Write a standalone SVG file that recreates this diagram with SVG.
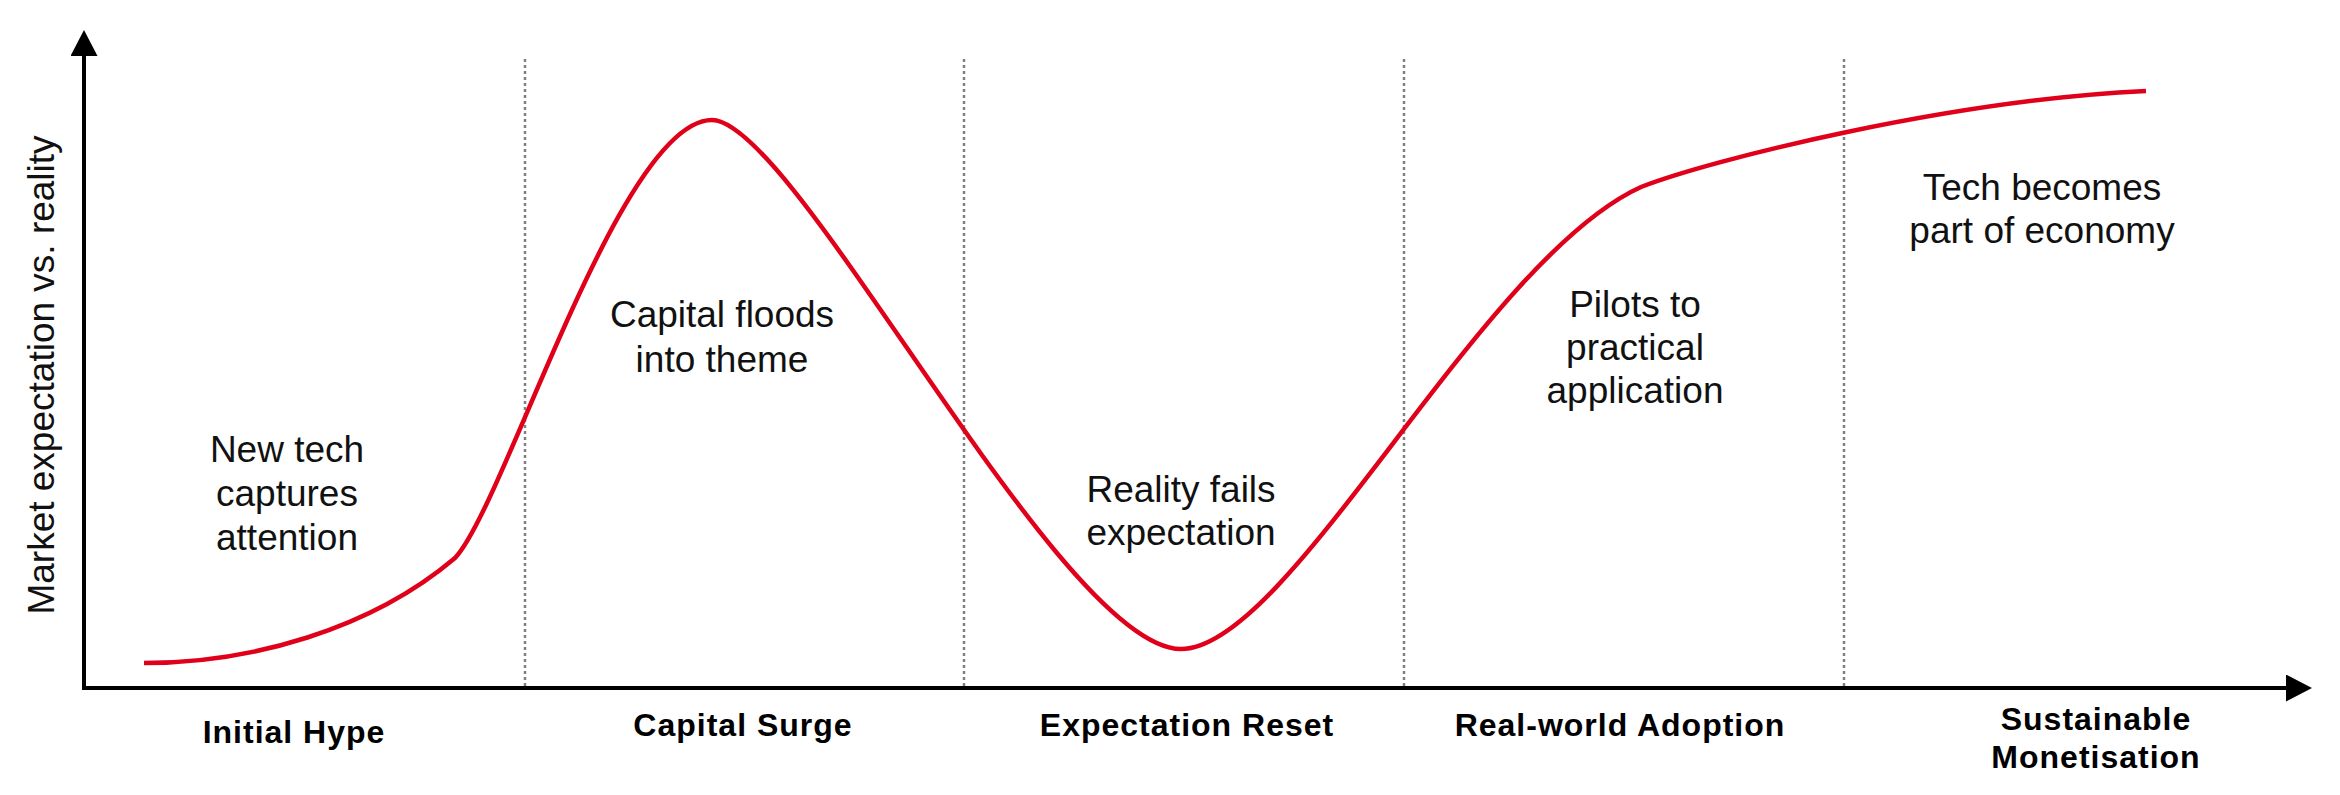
<svg xmlns="http://www.w3.org/2000/svg" width="2340" height="795" viewBox="0 0 2340 795">
<style>
.axis{stroke:#000;stroke-width:4;fill:none}
.div{stroke:#808080;stroke-width:2.5;stroke-dasharray:3 3;fill:none}
.curve{stroke:#e0001a;stroke-width:4.5;fill:none;stroke-linejoin:round;stroke-linecap:butt}
.lbl{font-family:"Liberation Sans",Arial,sans-serif;font-size:37px;fill:#111;text-anchor:middle}
.phase{font-family:"Liberation Sans",Arial,sans-serif;font-size:32px;font-weight:bold;fill:#000;text-anchor:middle;letter-spacing:1px}
</style>
<defs>
<marker id="arr" viewBox="0 0 26 27" refX="0" refY="13.5" markerWidth="26" markerHeight="27" markerUnits="userSpaceOnUse" orient="auto">
<path d="M0,0 L26,13.5 L0,27 Z" fill="#000"/>
</marker>
</defs>
<rect width="2340" height="795" fill="#fff"/>
<g id="dividers">
<line class="div" x1="525" y1="59" x2="525" y2="688"/>
<line class="div" x1="964" y1="59" x2="964" y2="688"/>
<line class="div" x1="1404" y1="59" x2="1404" y2="688"/>
<line class="div" x1="1844" y1="59" x2="1844" y2="688"/>
</g>
<g id="axes">
<line class="axis" x1="84" y1="690" x2="84" y2="56" marker-end="url(#arr)"/>
<line class="axis" x1="82" y1="688" x2="2286" y2="688" marker-end="url(#arr)"/>
</g>
<g id="connectors">
<path class="curve" d="M144,663 C250,663 370,630 455,558 C505,505 620,120 712,120 C795,120 1060,649 1181,649 C1290,649 1480,260 1641,187 C1710,160 1950,100 2146,91"/>
</g>
<g id="y-label">
<text class="lbl" x="54" y="375" transform="rotate(-90 54 375)">Market expectation vs. reality</text>
</g>
<g id="note-1"><text class="lbl"><tspan x="287" y="462">New tech</tspan><tspan x="287" y="506">captures</tspan><tspan x="287" y="550">attention</tspan></text></g>
<g id="note-2"><text class="lbl"><tspan x="722" y="327">Capital floods</tspan><tspan x="722" y="372">into theme</tspan></text></g>
<g id="note-3"><text class="lbl"><tspan x="1181" y="502">Reality fails</tspan><tspan x="1181" y="545">expectation</tspan></text></g>
<g id="note-4"><text class="lbl"><tspan x="1635" y="317">Pilots to</tspan><tspan x="1635" y="360">practical</tspan><tspan x="1635" y="403">application</tspan></text></g>
<g id="note-5"><text class="lbl"><tspan x="2042" y="200">Tech becomes</tspan><tspan x="2042" y="243">part of economy</tspan></text></g>
<g id="phase-1"><text class="phase" x="294" y="743">Initial Hype</text></g>
<g id="phase-2"><text class="phase" x="743" y="736">Capital Surge</text></g>
<g id="phase-3"><text class="phase" x="1187" y="736">Expectation Reset</text></g>
<g id="phase-4"><text class="phase" x="1620" y="736">Real-world Adoption</text></g>
<g id="phase-5"><text class="phase"><tspan x="2096" y="730">Sustainable</tspan><tspan x="2096" y="768">Monetisation</tspan></text></g>
</svg>
